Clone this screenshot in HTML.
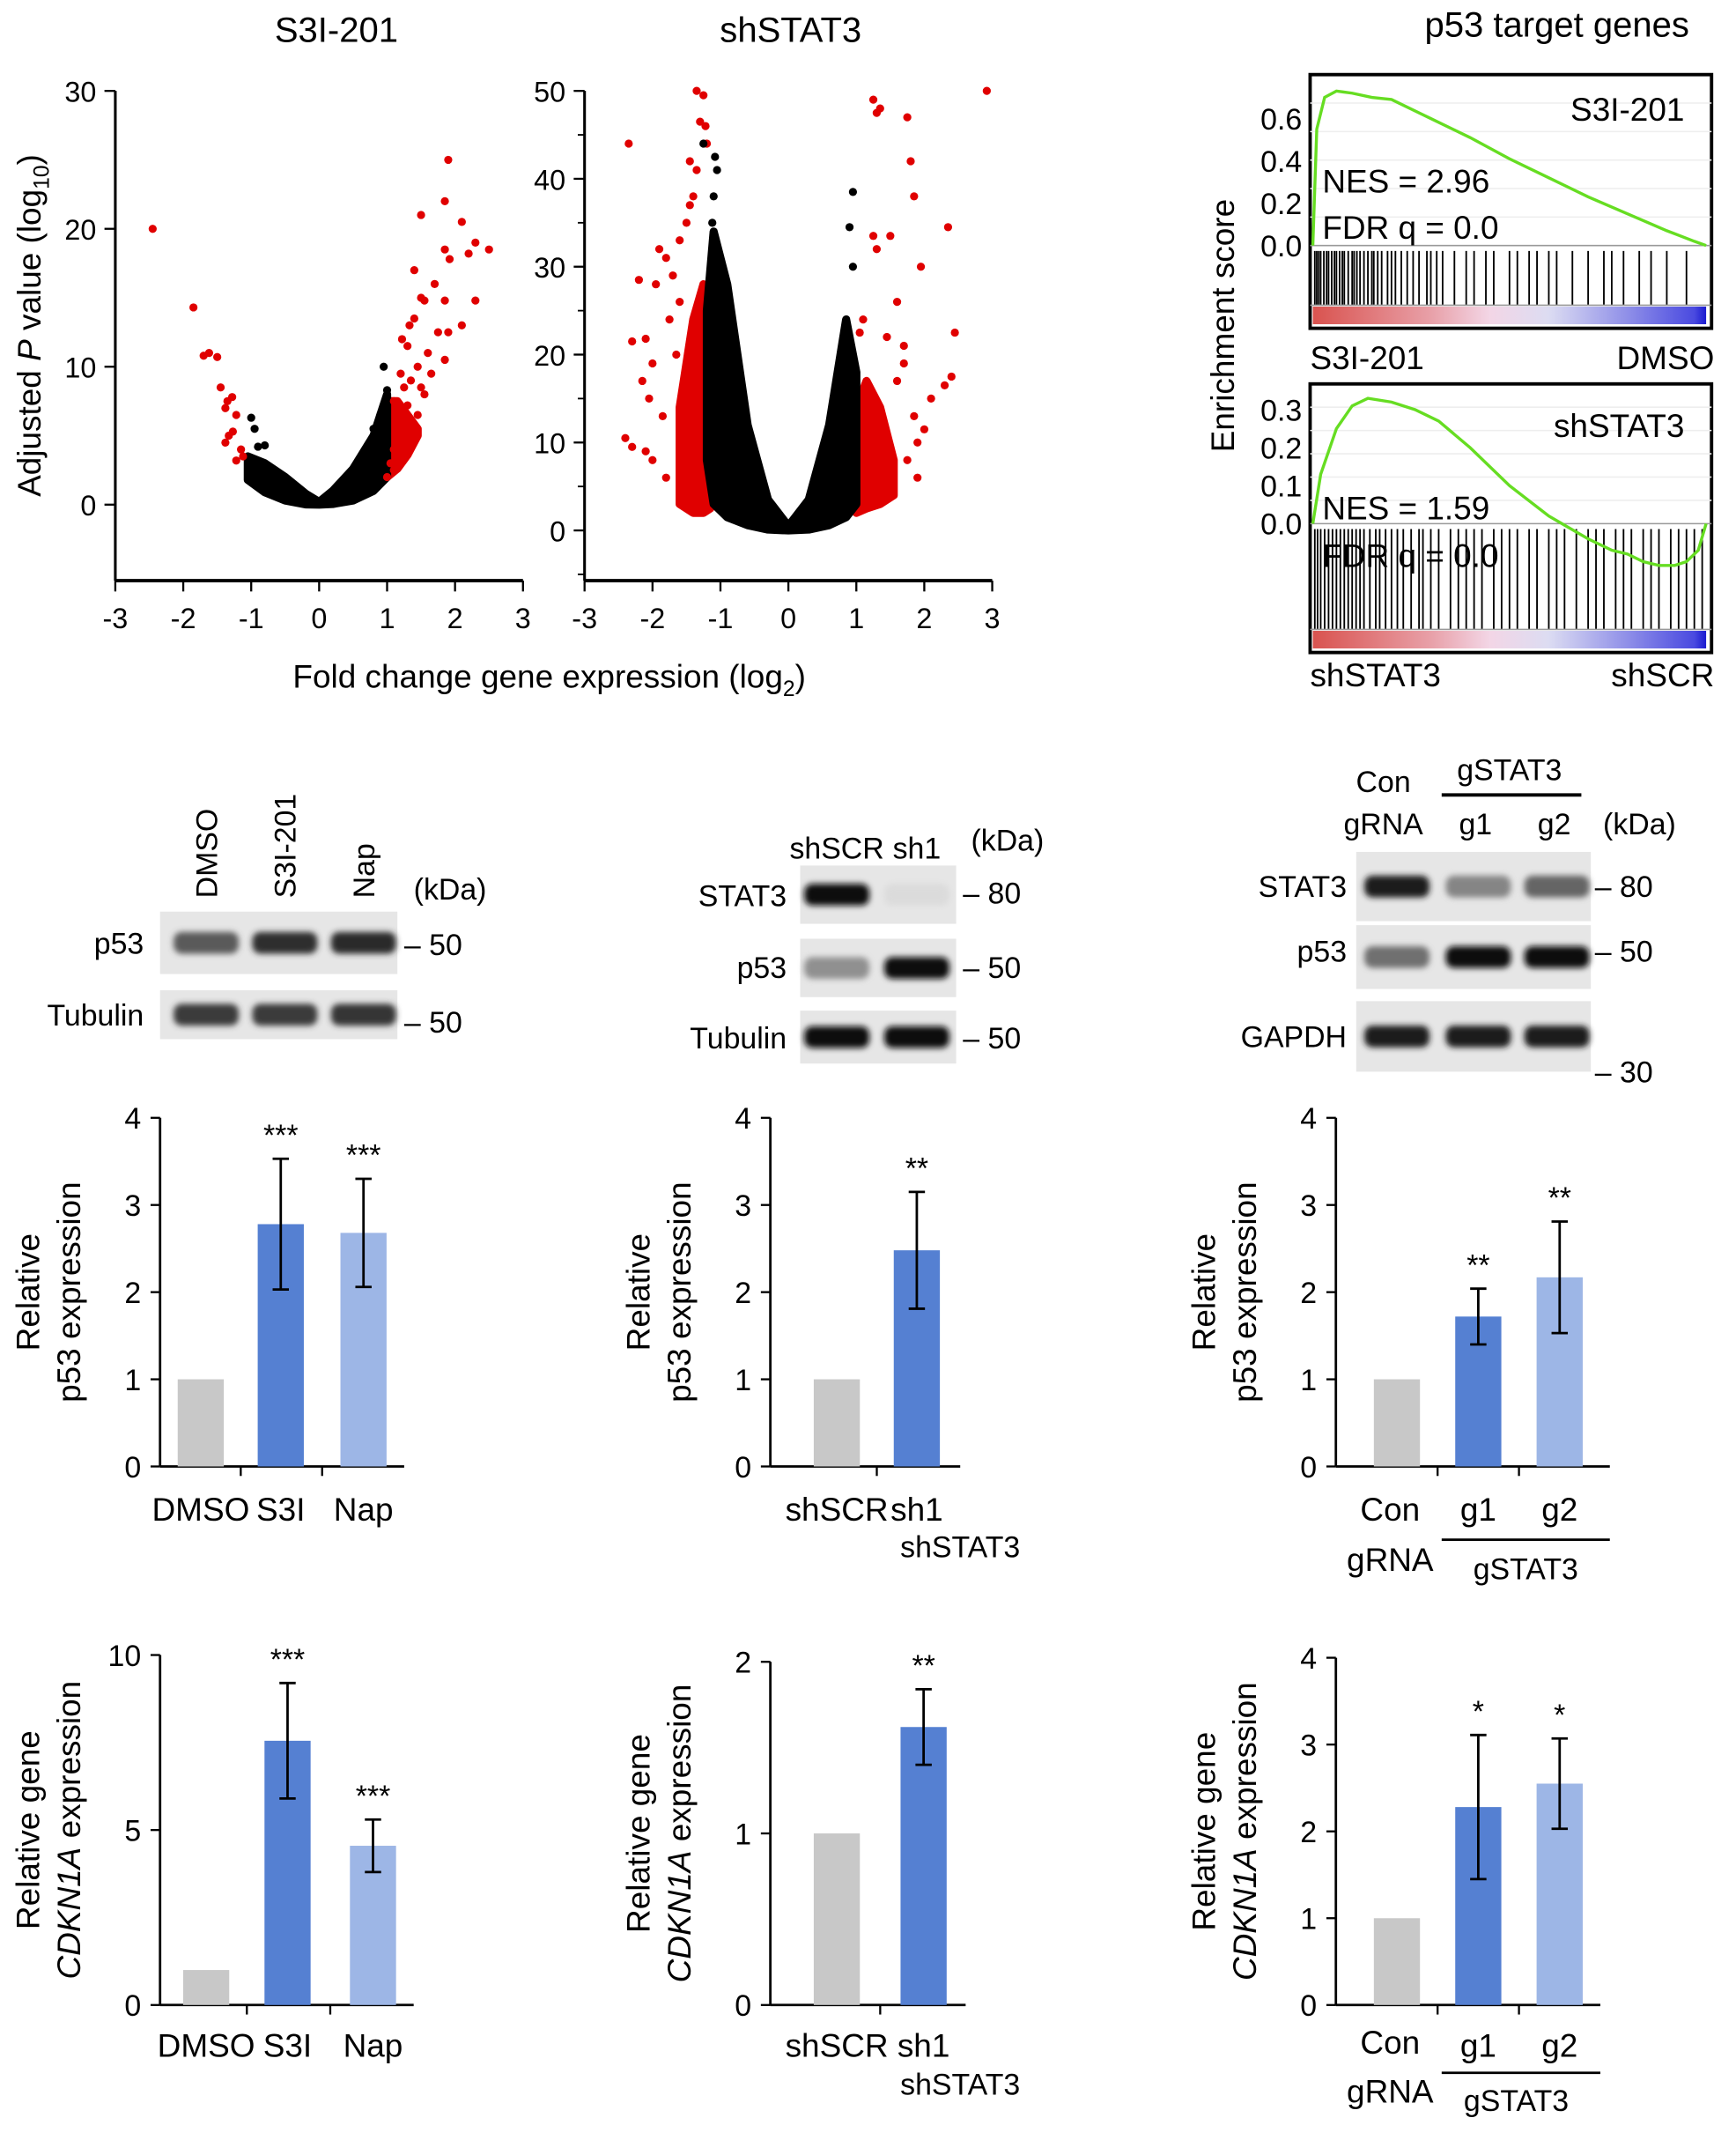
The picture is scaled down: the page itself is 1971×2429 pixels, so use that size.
<!DOCTYPE html>
<html><head><meta charset="utf-8">
<style>
html,body{margin:0;padding:0;background:#fff;}
svg{display:block;font-family:"Liberation Sans",sans-serif;}
</style></head>
<body>
<svg id="fig" width="1971" height="2429" viewBox="0 0 1280 1577.5" xmlns="http://www.w3.org/2000/svg">
<defs>
<linearGradient id="heat" x1="0" x2="1" y1="0" y2="0">
<stop offset="0" stop-color="#d9534f"/><stop offset="0.3" stop-color="#e8a0a8"/><stop offset="0.45" stop-color="#f3d6e6"/><stop offset="0.6" stop-color="#dcdcf2"/><stop offset="0.8" stop-color="#8f8fe8"/><stop offset="0.97" stop-color="#4a4ae0"/><stop offset="1" stop-color="#1a1ad0"/>
</linearGradient>
<filter id="blur" x="-20%" y="-50%" width="140%" height="200%"><feGaussianBlur stdDeviation="2.2"/></filter>
</defs>
<g id="root"></g>
</svg>
<script>
// ---------- DATA ----------
const v1Red = [[-2.45,20],[-1.85,14.3],[-1.7,10.8],[-1.62,11],[-1.5,10.7],[-1.45,8.5],[-1.35,7.5],[-1.28,7.8],[-1.38,7],[-1.22,6.5],[-1.33,5],[-1.38,4.5],[-1.27,5.3],[-1.15,4],[-1.12,3.5],[-1.22,3.2],
[1.9,25],[1.85,22],[2.1,20.5],[2.3,19],[2.5,18.5],[2.2,18.2],[1.85,18.5],[1.92,17.8],[1.5,21],[1.4,17],[1.7,16],[1.5,15],[1.55,14.8],[2.3,14.8],[1.85,14.8],[1.4,13.5],[1.33,13],[2.1,13],[1.75,12.5],[1.9,12.5],[1.22,12],[1.3,11.5],[1.6,11],[1.85,10.5],[1.45,10],[1.2,9.5],[1.65,9.5],[1.35,9],[1.5,8.5],[1.55,8],[1.25,8.5],[1.1,7.5],[1.3,7.2],[1.2,6.8],[1.45,6.5],[1.35,6],[1.25,5.5],[1.15,5],[1.3,4.5],[1.1,4],[1.2,3.5],[1.05,3],[1.1,2.5],[1.0,2]];
const v1Black = [[-1.0,6.3],[-0.95,5.5],[-0.9,4.2],[-0.8,4.3],[0.95,10],[1.0,8.3],[0.9,6.5],[0.8,5.5]];
const v1BlackX = [-1.05,-0.8,-0.5,-0.2,0,0.2,0.5,0.8,1.0];
const v1BlackTop = [3.5,3.0,2.0,0.8,0.2,1.0,2.6,5.0,8.0];
const v1BlackBot = [1.8,0.9,0.3,0.02,0,0.05,0.3,1.0,2.0];
const v1RedBandX = [1.0,1.15,1.3,1.45];
const v1RedBandTop = [7.5,7.5,6.5,5.5];
const v1RedBandBot = [2.0,2.6,3.6,5.0];

const v2Red = [[-2.35,44],[-1.35,50],[-1.25,49.5],[-1.22,46],[-1.3,46.5],[-1.2,44],[-1.45,42],[-1.35,41],[-1.4,38],[-1.45,37],[-1.5,35],[-1.9,32],[-1.95,28],[-2.2,28.5],[-2.3,21.5],[-2.1,21.8],[-2.0,19],[-2.15,17],[-2.05,15],[-2.4,10.5],[-2.3,9.5],[-2.1,9],[-1.8,31],[-1.6,33],[-1.7,29],[-1.75,24],[-1.65,20],[-1.85,13],[-1.8,6],[-2.0,8],[-1.6,26],
[1.25,49],[1.35,48],[1.3,47.5],[1.75,47],[1.8,42],[1.85,38],[2.35,34.5],[1.95,30],[1.25,33.5],[1.5,33.5],[1.3,32],[2.45,22.5],[2.4,17.5],[2.3,16.5],[2.1,15],[1.7,21],[1.7,19],[1.85,13],[2.0,11.5],[1.9,10],[2.92,50],[1.6,26],[1.1,24],[1.05,22.5],[1.45,22],[1.6,17],[1.75,8],[1.9,6]];
const v2Black = [[0.95,38.5],[0.9,34.5],[0.95,30],[-1.25,44],[-1.05,41],[-1.08,42.5],[-1.1,38],[-1.12,35]];
const v2BlackX = [-1.2,-1.1,-0.9,-0.6,-0.3,0,0.3,0.6,0.85,1.0];
const v2BlackTop = [25,34,28,12,3.5,0.5,3.5,12,24,18];
const v2BlackBot = [8,3,1.5,0.6,0.1,0,0.1,0.6,1.5,3];
const v2RedLX = [-1.6,-1.4,-1.25,-1.15];
const v2RedLTop = [14,24,28,24];
const v2RedLBot = [3,2,2,2.5];
const v2RedRX = [1.0,1.15,1.35,1.55];
const v2RedRTop = [14,17,14,8];
const v2RedRBot = [2,2.5,3,4];

const gsea1Pos = [0,0.01,0.03,0.06,0.1,0.15,0.2,0.3,0.4,0.5,0.6,0.7,0.8,0.9,0.97,1.0];
const gsea1ES = [0,0.55,0.7,0.73,0.72,0.7,0.69,0.6,0.51,0.41,0.32,0.23,0.15,0.07,0.02,0];
const gsea2Pos = [0,0.02,0.06,0.1,0.14,0.2,0.26,0.32,0.4,0.5,0.6,0.7,0.76,0.8,0.84,0.88,0.92,0.95,0.98,1];
const gsea2ES = [0,0.13,0.25,0.31,0.33,0.32,0.3,0.27,0.2,0.1,0.02,-0.04,-0.07,-0.08,-0.1,-0.11,-0.11,-0.1,-0.07,0];
const hits1 = [0.005,0.01,0.015,0.02,0.028,0.035,0.04,0.048,0.055,0.06,0.068,0.075,0.08,0.09,0.1,0.105,0.112,0.12,0.13,0.14,0.15,0.155,0.165,0.175,0.19,0.2,0.21,0.225,0.24,0.255,0.27,0.29,0.3,0.315,0.33,0.36,0.39,0.41,0.44,0.46,0.5,0.52,0.55,0.57,0.6,0.62,0.66,0.7,0.74,0.76,0.79,0.83,0.86,0.9,0.95];
const hits2 = [0.005,0.012,0.02,0.03,0.04,0.05,0.06,0.07,0.08,0.09,0.1,0.11,0.12,0.13,0.145,0.16,0.17,0.185,0.2,0.215,0.23,0.25,0.27,0.28,0.3,0.32,0.35,0.37,0.39,0.41,0.43,0.46,0.48,0.5,0.52,0.55,0.57,0.6,0.62,0.64,0.67,0.7,0.72,0.74,0.77,0.79,0.81,0.84,0.86,0.88,0.91,0.93,0.95,0.97,0.99];

const catsA = ["DMSO","S3I","Nap"], valsA = [1,2.78,2.68], errA = [0,0.75,0.62], starsA = ["","***","***"];
const catsB = ["shSCR","sh1"], valsB = [1,2.48], errB = [0,0.67], starsB = ["","**"];
const catsC = ["Con","g1","g2"], valsC = [1,1.72,2.17], errC = [0,0.32,0.64], starsC = ["","**","**"];
const catsD = ["DMSO","S3I","Nap"], valsD = [1,7.55,4.55], errD = [0,1.65,0.75], starsD = ["","***","***"];
const catsE = ["shSCR","sh1"], valsE = [1,1.62], errE = [0,0.22], starsE = ["","**"];
const catsF = ["Con","g1","g2"], valsF = [1,2.28,2.55], errF = [0,0.83,0.52], starsF = ["","*","*"];
const ticks4 = [0,1,2,3,4], ticks10 = [0,5,10], ticks2 = [0,1,2];

// ---------- HELPERS ----------
const NS="http://www.w3.org/2000/svg";
const root=document.getElementById('root');
function el(tag,attrs,parent,txt){const e=document.createElementNS(NS,tag);for(const k in attrs)e.setAttribute(k,attrs[k]);if(txt!==undefined)e.textContent=txt;(parent||root).appendChild(e);return e;}
function text(x,y,s,size,anchor,parent,extra){const t=el('text',Object.assign({x:x,y:y,'font-size':size,'text-anchor':anchor||'middle',fill:'#000'},extra||{}),parent,s);return t;}
const colors=["#c8c8c8","#5580d2","#9db6e6"];

let t;
t=text(248,31,"S3I-201",26);
t=text(583,31,"shSTAT3",26);
t=text(1148,27,"p53 target genes",26);

// ---------- VOLCANOES ----------
function volcano(name,ax,ymax,y0px,ytopPx,ticks,minor,red,black,bx,btop,bbot,bands){
  const g=el('g',{});
  
  
  const BOT=428;
  const X=v=>ax+(v+3)*50.1, Y=v=>y0px-(v/ymax)*(y0px-ytopPx);
  el('line',{x1:ax,y1:ytopPx,x2:ax,y2:BOT,stroke:'#000','stroke-width':2},g);
  el('line',{x1:ax,y1:BOT,x2:X(3),y2:BOT,stroke:'#000','stroke-width':2.5},g);
  for(let v=-3;v<=3;v++){el('line',{x1:X(v),y1:BOT,x2:X(v),y2:BOT+8,stroke:'#000','stroke-width':1.5},g);
    text(X(v),BOT+35,String(v),21,'middle',g);}
  ticks.forEach(v=>{el('line',{x1:ax-8,y1:Y(v),x2:ax,y2:Y(v),stroke:'#000','stroke-width':1.5},g);
    text(ax-14,Y(v)+8,String(v),21,'end',g);});
  minor.forEach(v=>el('line',{x1:ax-5,y1:Y(v),x2:ax,y2:Y(v),stroke:'#000','stroke-width':1.2},g));
  const poly=(xs,top,bot,col)=>{let p=[];xs.forEach((x,i)=>p.push(X(x)+','+Y(top[i])));for(let i=xs.length-1;i>=0;i--)p.push(X(xs[i])+','+Y(bot[i]));
    const e=el('polygon',{points:p.join(' '),fill:col,stroke:col,'stroke-width':6,'stroke-linejoin':'round'},g);return e;};
  bands.forEach(b=>{const e=poly(b[0],b[1],b[2],'#e00000');});
  const bp=poly(bx,btop,bbot,'#000');
  red.forEach(p=>{const c=el('circle',{cx:X(p[0]),cy:Y(p[1]),r:3,fill:'#e00000'},g);});
  black.forEach(p=>{const c=el('circle',{cx:X(p[0]),cy:Y(p[1]),r:3,fill:'#000'},g);});
}
volcano('volcano-s3i-201',85,30,372,67,[0,10,20,30],[],v1Red,v1Black,v1BlackX,v1BlackTop,v1BlackBot,[[v1RedBandX,v1RedBandTop,v1RedBandBot]]);
volcano('volcano-shstat3',431,50,391,67,[0,10,20,30,40,50],[5,15,25,35,45,-5],v2Red,v2Black,v2BlackX,v2BlackTop,v2BlackBot,[[v2RedLX,v2RedLTop,v2RedLBot],[v2RedRX,v2RedRTop,v2RedRBot]]);
t=text(405,507,"",24);
t.innerHTML='Fold change gene expression (log<tspan font-size="16" dy="6">2</tspan><tspan dy="-6">)</tspan>';
t=text(0,0,"",24,'middle',null,{transform:'translate(30,240) rotate(-90)'});
t.innerHTML='Adjusted <tspan font-style="italic">P</tspan> value (log<tspan font-size="16" dy="6">10</tspan><tspan dy="-6">)</tspan>';

// ---------- GSEA ----------
function gsea(name,top,bottom,zeroY,perUnit,ticks,pos,es,hits,label,nes,lblL,lblR,labelY,nesY,fdrY){
  const g=el('g',{});
  
  
  const L=966,R=1262,X=f=>L+2+f*(R-L-6),Y=v=>zeroY-v*perUnit;
  el('rect',{x:L,y:top,width:R-L,height:bottom-top,fill:'#fff',stroke:'#000','stroke-width':2.5},g);
  for(let i=1;i<6;i++)el('line',{x1:L,x2:R,y1:top+i*(zeroY-top)/6,y2:top+i*(zeroY-top)/6,stroke:'#eee','stroke-width':1},g);
  el('line',{x1:L,x2:R,y1:zeroY,y2:zeroY,stroke:'#999','stroke-width':1},g);
  ticks.forEach(v=>text(L-6,Y(v)+8,v.toFixed(1),22,'end',g));
  const hy0=zeroY+4,hy1=bottom-17;
  hits.forEach(h=>{const l=el('line',{x1:X(h),x2:X(h),y1:hy0,y2:hy1,stroke:'#000','stroke-width':1.2},g);});
  el('line',{x1:L,x2:R,y1:hy1,y2:hy1,stroke:'#999','stroke-width':1},g);
  el('rect',{x:L+2,y:hy1+1,width:R-L-6,height:13,fill:'url(#heat)'},g);
  const pl=el('polyline',{points:pos.map((p,i)=>X(p)+','+Y(es[i])).join(' '),fill:'none',stroke:'#66dd22','stroke-width':2.2},g);
  
  text(R-20,labelY,label,24,'end',g);
  text(L+9,nesY,nes,24,'start',g);
  text(L+9,fdrY,"FDR q = 0.0",24,'start',g);
  text(L,top===55?272:506,lblL,24,'start',g);
  text(R+2,top===55?272:506,lblR,24,'end',g);
}
gsea('gsea-s3i-201',55,242,181,156,[0.0,0.2,0.4,0.6],gsea1Pos,gsea1ES,hits1,"S3I-201","NES = 2.96","S3I-201","DMSO",89,142,176);
gsea('gsea-shstat3',283,481,386,280,[0.0,0.1,0.2,0.3],gsea2Pos,gsea2ES,hits2,"shSTAT3","NES = 1.59","shSTAT3","shSCR",322,383,418);
t=text(0,0,"Enrichment score",24,'middle',null,{transform:'translate(910,240) rotate(-90)'});

// ---------- BLOTS ----------
function blotBox(x,y,w,h,lanes,intens,name){
  const g=el('g',{});
  
  
  el('rect',{x:x,y:y,width:w,height:h,fill:'#e6e6e6'},g);
  lanes.forEach((cx,i)=>{if(intens[i]<=0)return;const v=Math.round(230-215*intens[i]);
    el('rect',{x:cx-24,y:y+h/2-8,width:48,height:16,rx:6,fill:`rgb(${v},${v},${v})`,filter:'url(#blur)'},g);});
}
function lbl(x,y,s,size,anchor,name){const t=text(x,y,s,size,anchor);return t;}
[["DMSO",152],["S3I-201",210],["Nap",268]].forEach(a=>{const t=text(0,0,a[0],22,'start',null,{transform:`translate(${a[1]+8},662) rotate(-90)`});});
lbl(305,663,"(kDa)",22,'start','kda-label');
blotBox(118,672,175,46,[152,210,268],[0.65,0.85,0.88],'blot-p53-1');
blotBox(118,730,175,36,[152,210,268],[0.8,0.8,0.82],'blot-tubulin-1');
lbl(106,703,"p53",22,'end','row-label');lbl(106,756,"Tubulin",22,'end','row-label');
lbl(298,704,"– 50",22,'start','marker');lbl(298,761,"– 50",22,'start','marker');
lbl(617,633,"shSCR",22,'middle','lane-label');lbl(676,633,"sh1",22,'middle','lane-label');lbl(716,627,"(kDa)",22,'start','kda-label');
blotBox(590,638,115,43,[617,676],[1,0.05],'blot-stat3-2');
blotBox(590,692,115,43,[617,676],[0.4,1],'blot-p53-2');
blotBox(590,745,115,39,[617,676],[1,1],'blot-tubulin-2');
lbl(580,668,"STAT3",22,'end','row-label');lbl(580,721,"p53",22,'end','row-label');lbl(580,773,"Tubulin",22,'end','row-label');
lbl(710,666,"– 80",22,'start','marker');lbl(710,721,"– 50",22,'start','marker');lbl(710,773,"– 50",22,'start','marker');
lbl(1020,584,"Con",22,'middle','lane-label');lbl(1020,615,"gRNA",22,'middle','lane-label');
lbl(1113,575,"gSTAT3",22,'middle','group-label');
el('line',{x1:1063,x2:1166,y1:586,y2:586,stroke:'#000','stroke-width':2.5});
lbl(1088,615,"g1",22,'middle','lane-label');lbl(1146,615,"g2",22,'middle','lane-label');lbl(1182,615,"(kDa)",22,'start','kda-label');
blotBox(1000,628,173,51,[1030,1090,1148],[0.95,0.45,0.6],'blot-stat3-3');
blotBox(1000,682,173,47,[1030,1090,1148],[0.55,1,1],'blot-p53-3');
blotBox(1000,738,173,52,[1030,1090,1148],[0.95,0.95,0.95],'blot-gapdh-3');
lbl(993,661,"STAT3",22,'end','row-label');lbl(993,709,"p53",22,'end','row-label');lbl(993,772,"GAPDH",22,'end','row-label');
lbl(1176,661,"– 80",22,'start','marker');lbl(1176,709,"– 50",22,'start','marker');lbl(1176,798,"– 30",22,'start','marker');

// ---------- BAR CHARTS ----------
function bars(name,ax,y0,yTop,ymax,ticks,cats,vals,errs,stars,centers,xEnd,labelY,ylab1,ylab2,italic){
  const g=el('g',{});
  
  
  const Y=v=>y0-(v/ymax)*(y0-yTop);
  el('line',{x1:ax,y1:yTop,x2:ax,y2:y0,stroke:'#000','stroke-width':1.8},g);
  el('line',{x1:ax,y1:y0,x2:xEnd,y2:y0,stroke:'#000','stroke-width':1.8},g);
  ticks.forEach(v=>{el('line',{x1:ax-7,y1:Y(v),x2:ax,y2:Y(v),stroke:'#000','stroke-width':1.5},g);text(ax-14,Y(v)+8,String(v),22,'end',g);});
  for(let i=0;i<centers.length-1;i++){const mx=(centers[i]+centers[i+1])/2;el('line',{x1:mx,y1:y0,x2:mx,y2:y0+7,stroke:'#000','stroke-width':1.5},g);}
  vals.forEach((v,i)=>{const c=centers[i];
    const b=el('rect',{x:c-17,y:Y(v),width:34,height:y0-Y(v),fill:colors[i]},g);
    
    if(errs[i]>0){const e=el('path',{d:`M${c-6},${Y(v+errs[i])}H${c+6}M${c},${Y(v+errs[i])}V${Y(v-errs[i])}M${c-6},${Y(v-errs[i])}H${c+6}`,stroke:'#000','stroke-width':1.8,fill:'none'},g);
      }
    if(stars[i]){const s=text(c,Y(v+errs[i])-10,stars[i],22,'middle',g);}
    if(cats[i]!=="Con")text(c,labelY,cats[i],24,'middle',g);
  });
  const t=text(0,0,"",24,'middle',g,{transform:`translate(${ax-75},${(y0+yTop)/2}) rotate(-90)`});
  t.innerHTML=`<tspan x="0" dy="-14">${ylab1}</tspan><tspan x="0" dy="30">${italic?'<tspan font-style="italic">CDKN1A</tspan> expression':ylab2}</tspan>`;
}
bars('chart-p53-s3i',118,1081,824,4,ticks4,catsA,valsA,errA,starsA,[148,207,268],298,1121,"Relative","p53 expression",false);
bars('chart-p53-shstat3',568,1081,824,4,ticks4,catsB,valsB,errB,starsB,[617,676],708,1121,"Relative","p53 expression",false);
bars('chart-p53-gstat3',985,1081,824,4,ticks4,catsC,valsC,errC,starsC,[1030,1090,1150],1187,1121,"Relative","p53 expression",false);
bars('chart-cdkn1a-s3i',118,1478,1220,10,ticks10,catsD,valsD,errD,starsD,[152,212,275],305,1516,"Relative gene","",true);
bars('chart-cdkn1a-shstat3',568,1478,1225,2,ticks2,catsE,valsE,errE,starsE,[617,681],712,1516,"Relative gene","",true);
bars('chart-cdkn1a-gstat3',985,1478,1222,4,ticks4,catsF,valsF,errF,starsF,[1030,1090,1150],1180,1516,"Relative gene","",true);
lbl(708,1148,"shSTAT3",22,'middle','group-label');
lbl(708,1544,"shSTAT3",22,'middle','group-label');
lbl(1025,1121,"Con",24,'middle','category-label');lbl(1025,1158,"gRNA",24,'middle','category-label');
el('line',{x1:1063,x2:1187,y1:1135,y2:1135,stroke:'#000','stroke-width':1.8});
lbl(1125,1164,"gSTAT3",22,'middle','group-label');
lbl(1025,1514,"Con",24,'middle','category-label');lbl(1025,1550,"gRNA",24,'middle','category-label');
el('line',{x1:1063,x2:1180,y1:1528,y2:1528,stroke:'#000','stroke-width':1.8});
lbl(1118,1556,"gSTAT3",22,'middle','group-label');
</script>
</body></html>
